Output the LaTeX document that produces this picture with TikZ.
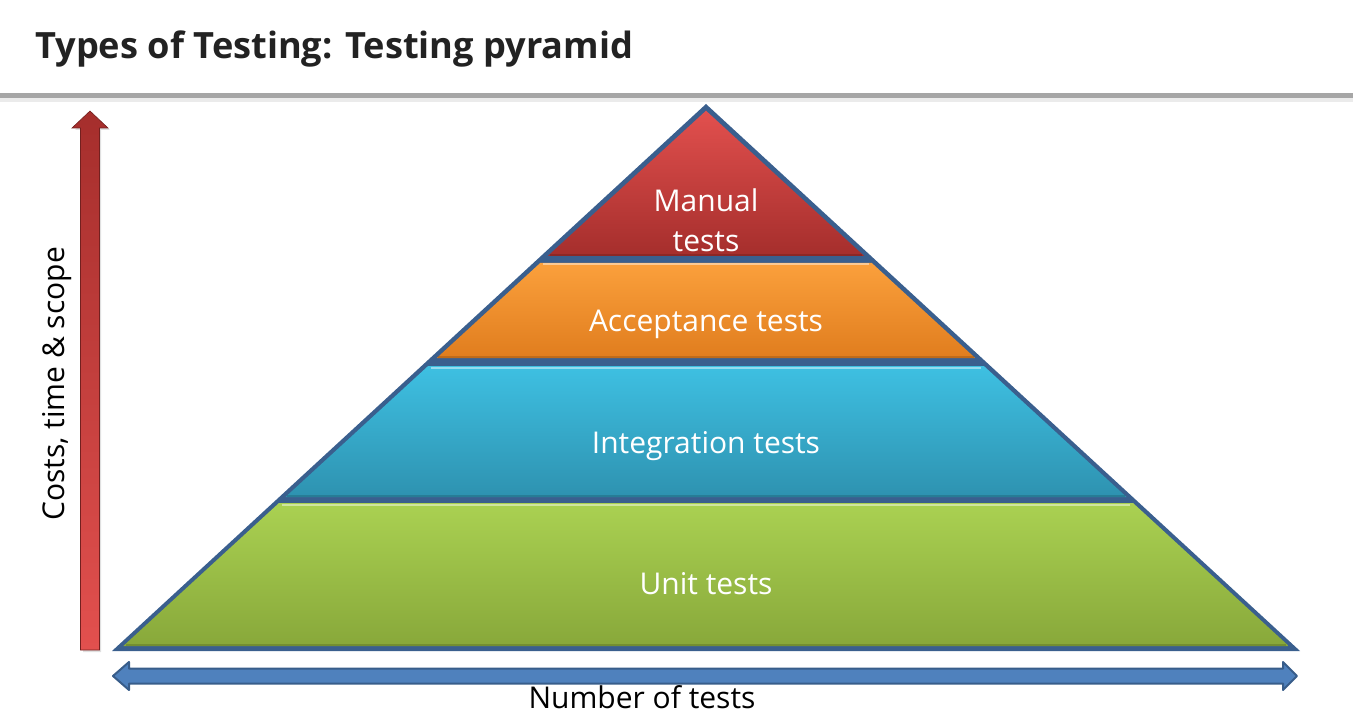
\documentclass[tikz,border=0pt]{standalone}
\usepackage{fontspec}
\setmainfont{Open Sans}
\usetikzlibrary{calc}
\definecolor{outl}{HTML}{3A5F8E}
\definecolor{redT}{HTML}{E2504E}
\definecolor{redB}{HTML}{A52E2C}
\definecolor{orgT}{HTML}{FBA03C}
\definecolor{orgB}{HTML}{E07D1E}
\definecolor{bluT}{HTML}{3EC0E2}
\definecolor{bluB}{HTML}{2E92B0}
\definecolor{grnT}{HTML}{AAD152}
\definecolor{grnB}{HTML}{88A83A}
\definecolor{arrB}{HTML}{4F81BD}
\definecolor{arrBd}{HTML}{385D8A}
\definecolor{titlec}{HTML}{222222}
\tikzset{
  layer/.style={draw=none},
  lbl/.style={text=white, font=\fontsize{30}{40}\selectfont, align=center, inner sep=0pt, anchor=base},
  axislbl/.style={text=black, font=\fontsize{30}{36}\selectfont, inner sep=0pt},
}
\begin{document}
\begin{tikzpicture}[x=1pt,y=-1pt]
\useasboundingbox (0,0) rectangle (1353,714);
% title
\node[anchor=base west, inner sep=0pt, text=titlec, font=\bfseries\fontsize{36.2}{44}\selectfont] (title) at (35,59) {Types of Testing: Testing pyramid};
% header rule with shadow
\fill[black!8] (0,97) rectangle (1353,102);
\fill[black!35] (0,93) rectangle (1353,98);
% pyramid outline
\fill[outl] (706,104) -- (1300,651) -- (112,651) -- cycle;
% layers
\path[layer, top color=redT, bottom color=redB] (706,110.7) -- (864.2,256) -- (547.8,256) -- cycle;
\path[layer, top color=orgT, bottom color=orgB] (540.2,263) -- (871.8,263) -- (975.2,358) -- (436.8,358) -- cycle;
\path[layer, top color=bluT, bottom color=bluB] (428.1,366) -- (983.9,366) -- (1126.5,497) -- (285.5,497) -- cycle;
\path[layer, top color=grnT, bottom color=grnB] (279,503) -- (1133,503) -- (1288.7,646) -- (123.3,646) -- cycle;
% bevel highlights
\draw[white, opacity=0.45, line width=2pt] (543,264.5) -- (869,264.5);
\draw[white, opacity=0.45, line width=2pt] (431,367.5) -- (981,367.5);
\draw[white, opacity=0.45, line width=2pt] (282,504.5) -- (1130,504.5);
\draw[black, opacity=0.15, line width=2pt] (550,255) -- (862,255);
\draw[black, opacity=0.15, line width=2pt] (438,357) -- (974,357);
\draw[black, opacity=0.15, line width=2pt] (287,496) -- (1125,496);
\draw[black, opacity=0.15, line width=2pt] (126,645) -- (1286,645);
% labels
\node[lbl] (manual) at (706,212) {Manual};
\node[lbl] (manual2) at (706,252) {tests};
\node[lbl] (accept) at (706,331) {Acceptance tests};
\node[lbl] (integ) at (706,453) {Integration tests};
\node[lbl] (unit) at (706,594) {Unit tests};
% vertical red arrow
\coordinate (vtip) at (90,111);
\fill[black, opacity=0.12] (83,652) -- (83,130) -- (75,130) -- (92,114) -- (110,130) -- (101,130) -- (101,652) -- cycle;
\path[top color=redB, bottom color=redT, draw=redB!70!black, line width=0.6pt]
  (80.5,650) -- (80.5,128) -- (72,128) -- (vtip) -- (108,128) -- (99.5,128) -- (99.5,650) -- cycle;
\node[axislbl, rotate=90] (costs) at (57,384) {Costs, time \& scope};
% horizontal blue arrow
\coordinate (hl) at (113,676);
\coordinate (hr) at (1297,676);
\path[fill=arrB, draw=arrBd, line width=2pt, line join=round]
  (hl) -- (129,662) -- (129,668.5) -- (1283,668.5) -- (1283,662) -- (hr) -- (1283,690) -- (1283,683.5) -- (129,683.5) -- (129,690) -- cycle;
\node[axislbl, anchor=base] (num) at (642,708) {Number of tests};
\end{tikzpicture}
\end{document}
